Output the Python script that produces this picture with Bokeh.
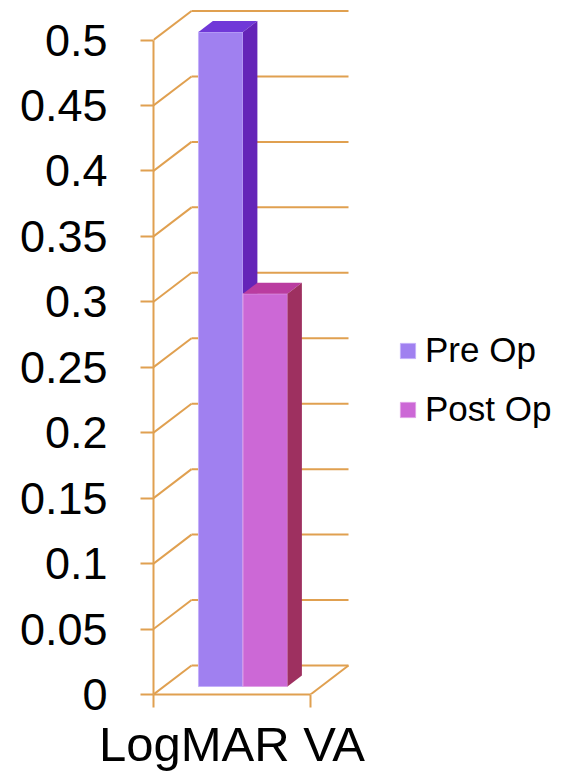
from bokeh.plotting import figure
from bokeh.models import Range1d, FixedTicker, Legend, LegendItem
from bokeh.embed import file_html
from bokeh.resources import INLINE

# ---- data ----
categories = ["LogMAR VA"]
series = ["Pre Op", "Post Op"]
values = [0.5, 0.3]
y_ticks = [0, 0.05, 0.1, 0.15, 0.2, 0.25, 0.3, 0.35, 0.4, 0.45, 0.5]
y_tick_labels = ["0", "0.05", "0.1", "0.15", "0.2", "0.25", "0.3", "0.35", "0.4", "0.45", "0.5"]

# ---- style ----
front_colors = ["#A080F0", "#CC68D6"]
edge_colors = ["#C4B0FA", "#E0A0E6"]
top_colors = ["#7038D8", "#BA3CA0"]
side_colors = ["#6424B8", "#9E3060"]
GRID = "#E0A050"
FONT = "Liberation Sans"

# ---- geometry (pixel scale of the frame) ----
PX_X = 157.0            # px per category unit
PX_Y = 1309.0           # px per y unit
FRAME_W = 424
FRAME_H = 694
DX = 38 / PX_X          # depth offset, x
DY = 29 / PX_Y          # depth offset, y
BAR_W = 44.5 / PX_X
BAR0 = (198 - 10.5 - 153) / PX_X
F1 = 8 / 29             # front face depth fraction
F2 = 19 / 29            # back face depth fraction

p = figure(width=577, height=779, output_backend="svg", toolbar_location=None,
           x_range=Range1d(0, FRAME_W / PX_X), y_range=Range1d(0, FRAME_H / PX_Y),
           min_border_left=153, min_border_right=0, min_border_top=0, min_border_bottom=85)
p.outline_line_color = None
p.xgrid.visible = False
p.ygrid.visible = False
p.background_fill_color = "white"

# back wall / floor lines at each tick
for t in y_ticks:
    p.segment(x0=[0], y0=[t], x1=[DX], y1=[t + DY], line_color=GRID, line_width=2)
    p.segment(x0=[DX], y0=[t + DY], x1=[1 + DX], y1=[t + DY], line_color=GRID, line_width=2)
p.segment(x0=[1], y0=[0], x1=[1 + DX], y1=[DY], line_color=GRID, line_width=2)

# 3D bars
items = []
for i, (name, v) in enumerate(zip(series, values)):
    xl = BAR0 + i * BAR_W
    xr = xl + BAR_W
    r = p.quad(left=[xl + F1 * DX], right=[xr + F1 * DX], bottom=[F1 * DY], top=[v + F1 * DY],
               fill_color=front_colors[i], line_color=edge_colors[i], line_width=1)
    p.patch(x=[xl + F1 * DX, xr + F1 * DX, xr + F2 * DX, xl + F2 * DX],
            y=[v + F1 * DY, v + F1 * DY, v + F2 * DY, v + F2 * DY],
            fill_color=top_colors[i], line_color=None)
    p.patch(x=[xr + F1 * DX, xr + F2 * DX, xr + F2 * DX, xr + F1 * DX],
            y=[F1 * DY, F2 * DY, v + F2 * DY, v + F1 * DY],
            fill_color=side_colors[i], line_color=None)
    items.append(LegendItem(label=name, renderers=[r]))

# y axis
ya = p.yaxis[0]
ya.ticker = FixedTicker(ticks=y_ticks, minor_ticks=[])
ya.major_label_overrides = dict(zip(y_ticks, y_tick_labels))
ya.bounds = (0, 0.5)
ya.axis_line_color = GRID
ya.axis_line_width = 2
ya.major_tick_line_color = GRID
ya.major_tick_line_width = 2
ya.major_tick_out = 13
ya.major_tick_in = 0
ya.major_label_standoff = 33
ya.major_label_text_font = FONT
ya.major_label_text_font_size = "45px"
ya.major_label_text_color = "black"

# x axis
xa = p.xaxis[0]
xa.ticker = FixedTicker(ticks=[0.5], minor_ticks=[0, 1])
xa.major_label_overrides = {0.5: categories[0]}
xa.bounds = (0, 1)
xa.axis_line_color = GRID
xa.axis_line_width = 2
xa.major_tick_line_color = None
xa.major_tick_out = 0
xa.major_tick_in = 0
xa.minor_tick_line_color = GRID
xa.minor_tick_line_width = 2
xa.minor_tick_out = 13
xa.minor_tick_in = 0
xa.major_label_standoff = 9
xa.major_label_text_font = FONT
xa.major_label_text_font_size = "49px"
xa.major_label_text_color = "black"

legend = Legend(items=items, location=(245, 265), padding=0, margin=0, spacing=19,
                glyph_width=19, glyph_height=19, label_standoff=8,
                label_text_font=FONT, label_text_font_size="35px", label_text_color="black",
                border_line_color=None, background_fill_alpha=0)
p.add_layout(legend)

open("out.html", "w").write(file_html(p, INLINE))
